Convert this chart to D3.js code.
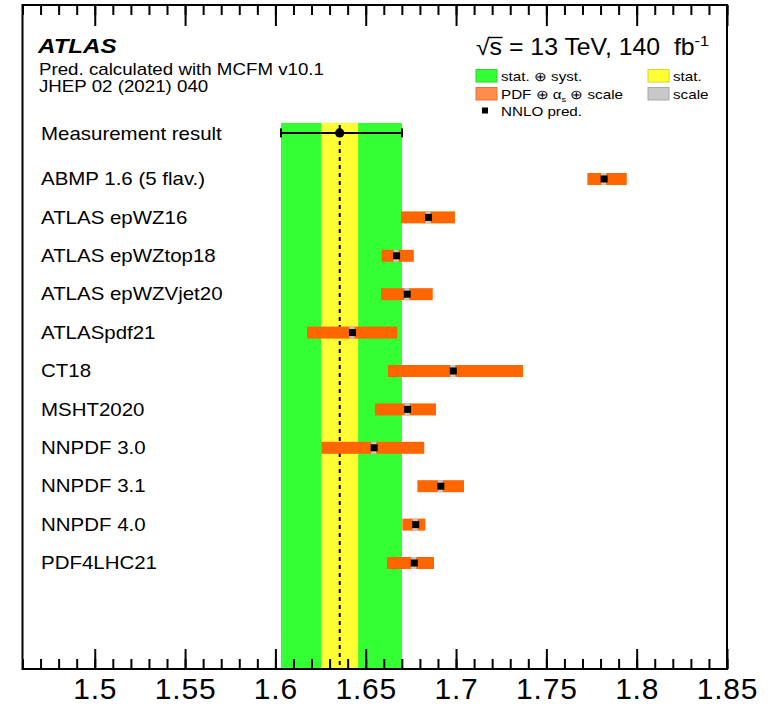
<!DOCTYPE html>
<html>
<head>
<meta charset="utf-8">
<script src="https://cdn.jsdelivr.net/npm/d3@7"></script>
<style>
  html, body { margin: 0; padding: 0; background: #fff; }
  svg { display: block; }
  text { font-family: "Liberation Sans", Arial, Helvetica, sans-serif; fill: #000; }
</style>
</head>
<body>
<svg id="chart" width="780" height="706"></svg>
<script>
// ---------------- data ----------------
const pdfSets = ["ABMP 1.6 (5 flav.)", "ATLAS epWZ16", "ATLAS epWZtop18", "ATLAS epWZVjet20",
  "ATLASpdf21", "CT18", "MSHT2020", "NNPDF 3.0", "NNPDF 3.1", "NNPDF 4.0", "PDF4LHC21"];
const predCentral = [1.7817, 1.6845, 1.6668, 1.6727, 1.6424, 1.6982, 1.6729, 1.6544, 1.6913, 1.6774, 1.6766];
const predLow     = [1.7727, 1.6695, 1.6588, 1.6585, 1.6175, 1.6623, 1.6551, 1.6254, 1.6786, 1.6703, 1.6618];
const predHigh    = [1.7945, 1.6994, 1.6766, 1.6871, 1.6675, 1.7371, 1.6889, 1.6824, 1.7044, 1.6830, 1.6878];
const predScale   = [0.0014, 0.0014, 0.0014, 0.0014, 0.0014, 0.0014, 0.0014, 0.0014, 0.0014, 0.0014, 0.0014];
const measCentral = 1.6356;
const measStat = 0.0102;
const measTotalDown = 0.0325;
const measTotalUp = 0.0345;
const tickValuesMajor = [1.5, 1.55, 1.6, 1.65, 1.7, 1.75, 1.8, 1.85];
const tickLabels = ["1.5", "1.55", "1.6", "1.65", "1.7", "1.75", "1.8", "1.85"];

// ---------------- layout ----------------
const C = { green: "#33ff33", yellow: "#ffff33", orange: "#ff6600", orangeLeg: "#ff8c4d", grey: "#c8c8c8" };
const svg = d3.select("#chart");
const x = d3.scaleLinear().domain([1.46, 1.85]).range([22.5, 727]);
const y = d3.scaleLinear().domain([-4.53, 12.76]).range([5, 669]);
const measRow = -1.2, bandTop = -1.46;
const SX = 1.17; // horizontal text stretch of the original rendering

function stretchText(parent, tx, ty, str, size, opts = {}) {
  const g = parent.append("g").attr("transform", `translate(${tx},${ty}) scale(${opts.sx || SX},1)`);
  const t = g.append("text").attr("font-size", size);
  if (opts.weight) t.attr("font-weight", opts.weight);
  if (opts.style) t.attr("font-style", opts.style);
  if (opts.anchor) t.attr("text-anchor", opts.anchor);
  t.text(str);
  return t;
}

const tLo = measCentral - measTotalDown, tHi = measCentral + measTotalUp;
// bands
svg.append("rect").attr("x", x(tLo)).attr("y", y(bandTop))
  .attr("width", x(tHi) - x(tLo)).attr("height", y.range()[1] - y(bandTop))
  .attr("fill", C.green);
svg.append("rect").attr("x", x(measCentral - measStat)).attr("y", y(bandTop))
  .attr("width", x(measCentral + measStat) - x(measCentral - measStat)).attr("height", y.range()[1] - y(bandTop))
  .attr("fill", C.yellow);
svg.append("line").attr("x1", x(measCentral)).attr("x2", x(measCentral))
  .attr("y1", y(bandTop) + 2).attr("y2", y.range()[1])
  .attr("stroke", "#000").attr("stroke-width", 2).attr("stroke-dasharray", "4,4");

// measurement marker
const my = y(measRow);
svg.append("line").attr("x1", x(tLo)).attr("x2", x(tHi))
  .attr("y1", my).attr("y2", my).attr("stroke", "#000").attr("stroke-width", 2);
[tLo, tHi].forEach(v => {
  svg.append("line").attr("x1", x(v)).attr("x2", x(v)).attr("y1", my - 4.5).attr("y2", my + 4.5)
    .attr("stroke", "#000").attr("stroke-width", 2);
});
svg.append("circle").attr("cx", x(measCentral)).attr("cy", my).attr("r", 4.6).attr("fill", "#000");

// predictions
const barH = 12, sq = 7;
const rowsG = svg.append("g");
pdfSets.forEach((name, i) => {
  const cy = y(i);
  rowsG.append("rect").attr("x", x(predLow[i])).attr("y", cy - barH / 2)
    .attr("width", x(predHigh[i]) - x(predLow[i])).attr("height", barH).attr("fill", C.orange);
  rowsG.append("rect").attr("x", x(predCentral[i] - predScale[i])).attr("y", cy - barH / 2)
    .attr("width", x(predCentral[i] + predScale[i]) - x(predCentral[i] - predScale[i])).attr("height", barH)
    .attr("fill", C.grey);
  rowsG.append("rect").attr("x", x(predCentral[i]) - sq / 2 + 0.5).attr("y", cy - sq / 2)
    .attr("width", sq).attr("height", sq).attr("fill", "#000");
  stretchText(svg, 41, cy + 6.3, name, 17.5);
});
stretchText(svg, 41, my + 7, "Measurement result", 17.5);

// axes
const minorTicks = d3.range(146, 186).map(v => v / 100);
const bottomMinor = svg.append("g").attr("transform", `translate(0,${y.range()[1]})`)
  .call(d3.axisBottom(x).tickValues(minorTicks).tickSize(-10).tickSizeOuter(0).tickFormat(""));
const bottomMajor = svg.append("g").attr("transform", `translate(0,${y.range()[1]})`)
  .call(d3.axisBottom(x).tickValues(tickValuesMajor).tickSize(-20).tickSizeOuter(0).tickPadding(9)
    .tickFormat((d, i) => tickLabels[i]));
const topMinor = svg.append("g").attr("transform", `translate(0,${y.range()[0]})`)
  .call(d3.axisTop(x).tickValues(minorTicks).tickSize(-10).tickSizeOuter(0).tickFormat(""));
const topMajor = svg.append("g").attr("transform", `translate(0,${y.range()[0]})`)
  .call(d3.axisTop(x).tickValues(tickValuesMajor).tickSize(-21).tickSizeOuter(0).tickFormat(""));
[bottomMinor, bottomMajor, topMinor, topMajor].forEach(g => {
  g.select(".domain").remove();
  g.selectAll(".tick line").attr("stroke", "#000").attr("stroke-width", 2);
});
bottomMajor.selectAll(".tick text").attr("font-size", 30)
  .attr("font-family", "'Liberation Sans', Arial, sans-serif").attr("fill", "#000")
  .style("letter-spacing", "0.8px");

// frame
svg.append("rect").attr("x", x.range()[0]).attr("y", y.range()[0])
  .attr("width", x.range()[1] - x.range()[0]).attr("height", y.range()[1] - y.range()[0])
  .attr("fill", "none").attr("stroke", "#000").attr("stroke-width", 2);

// header text
stretchText(svg, 38, 53, "ATLAS", 21, { weight: "bold", style: "italic", sx: 1.15 });
stretchText(svg, 39, 75, "Pred. calculated with MCFM v10.1", 16);
stretchText(svg, 39, 92, "JHEP 02 (2021) 040", 16);

// sqrt(s) label
const eg = svg.append("g").attr("transform", `translate(476,55) scale(1.08,1)`);
const et = eg.append("text").attr("font-size", 23).attr("xml:space", "preserve").style("white-space", "pre");
et.append("tspan").text("√s = 13 TeV, 140  fb");
et.append("tspan").attr("font-size", 15).attr("dy", -9).text("-1");
const sStart = et.node().getStartPositionOfChar(1).x, sEnd = et.node().getEndPositionOfChar(1).x;
eg.append("line").attr("x1", sStart - 1).attr("x2", sEnd + 0.5).attr("y1", -17.5).attr("y2", -17.5)
  .attr("stroke", "#000").attr("stroke-width", 1.4);

// legend
const legBoxes = [
  { x: 476, y: 69.5, fill: C.green, stroke: "#2ad42a", label: "stat. ⊕ syst." },
  { x: 648, y: 69.5, fill: C.yellow, stroke: "#d4d42a", label: "stat." },
  { x: 476, y: 87.5, fill: C.orangeLeg, stroke: "#e07040", label: null },
  { x: 648, y: 87.5, fill: C.grey, stroke: "#a8a8a8", label: "scale" }
];
legBoxes.forEach(b => {
  svg.append("rect").attr("x", b.x).attr("y", b.y).attr("width", 21).attr("height", 12.5)
    .attr("fill", b.fill).attr("stroke", b.stroke).attr("stroke-width", 1);
  if (b.label) stretchText(svg, b.x + 25, b.y + 11, b.label, 13);
});
// PDF ⊕ αs ⊕ scale
{
  const g = svg.append("g").attr("transform", `translate(501,98.5) scale(${SX},1)`);
  const t = g.append("text").attr("font-size", 13);
  t.append("tspan").text("PDF ⊕ α");
  t.append("tspan").attr("font-size", 8).attr("dy", 3).text("s");
  t.append("tspan").attr("dy", -3).text(" ⊕ scale");
}
svg.append("rect").attr("x", 482).attr("y", 107.5).attr("width", 6).attr("height", 6).attr("fill", "#000");
stretchText(svg, 501, 115.5, "NNLO pred.", 13);
</script>
</body>
</html>
